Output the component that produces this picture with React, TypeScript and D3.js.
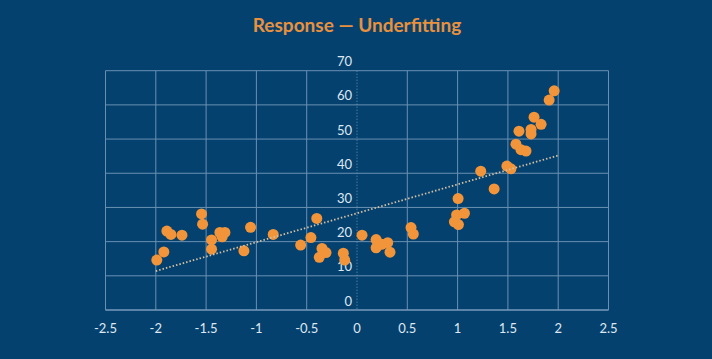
import React from "react";
import * as d3 from "d3";

const W = 712;
const H = 359;

const title = "Response — Underfitting";
const xTicks = [-2.5, -2, -1.5, -1, -0.5, 0, 0.5, 1, 1.5, 2, 2.5];
const yTicks = [0, 10, 20, 30, 40, 50, 60, 70];

const xs = [
  -1.99, -1.92, -1.89, -1.85, -1.74, -1.545, -1.535, -1.446, -1.446, -1.363, -1.313, -1.34, -1.124, -1.058,
  -0.833, -0.56, -0.458, -0.4, -0.348, -0.308, -0.375, -0.136, -0.122,
  0.05, 0.19, 0.19, 0.245, 0.305, 0.328,
  0.537, 0.56,
  0.968, 0.99, 1.005, 1.008, 1.068,
  1.23, 1.363, 1.49, 1.53, 1.58, 1.63, 1.68, 1.61, 1.73, 1.73, 1.76, 1.83, 1.91, 1.96,
];
const ys = [
  14.6, 17.0, 23.1, 22.1, 21.9, 28.1, 25.1, 20.5, 17.8, 22.7, 22.7, 21.4, 17.3, 24.2,
  22.1, 19.0, 21.2, 26.8, 18.0, 16.8, 15.4, 16.6, 14.6,
  21.9, 20.6, 18.2, 19.2, 19.7, 16.9,
  24.1, 22.2,
  25.8, 27.8, 32.6, 25.0, 28.3,
  40.6, 35.4, 42.1, 41.3, 48.5, 46.9, 46.5, 52.3, 52.8, 51.5, 56.4, 54.3, 61.4, 64.1,
];
const trendX = [-2, 2];
const trendY = [11.4, 45.2];

export default function App() {
  const x = d3.scaleLinear().domain([-2.5, 2.5]).range([105.5, 608.5]);
  const y = d3.scaleLinear().domain([0, 70]).range([310, 70.7]);
  const line = d3
    .line<number>()
    .x((_, i) => x(trendX[i]))
    .y((d) => y(d));
  const font = "Lato, 'Open Sans', sans-serif";
  return (
    <svg
      width={W}
      height={H}
      style={{ position: "absolute", left: 0, top: 0, display: "block" }}
    >
      <rect width={W} height={H} fill="#05416e" />
      <text
        x={357}
        y={32}
        textAnchor="middle"
        fill="#e8913e"
        fontFamily={font}
        fontWeight={700}
        fontSize={19}
      >
        {title}
      </text>
      {yTicks.map((t) => (
        <line
          key={"h" + t}
          x1={x(-2.5)}
          x2={x(2.5)}
          y1={y(t)}
          y2={y(t)}
          stroke="#6990b3"
          strokeWidth={1}
        />
      ))}
      {xTicks.map((t) =>
        t === 0 ? null : (
          <line
            key={"v" + t}
            x1={x(t)}
            x2={x(t)}
            y1={y(70)}
            y2={y(0)}
            stroke="#6990b3"
            strokeWidth={1}
          />
        )
      )}
      <line
        x1={x(0)}
        x2={x(0)}
        y1={y(70)}
        y2={y(0)}
        stroke="#6f93b6"
        strokeWidth={1}
        strokeDasharray="1 2"
      />
      <line
        x1={x(-2.5)}
        x2={x(2.5)}
        y1={y(0)}
        y2={y(0)}
        stroke="#7f9fbf"
        strokeWidth={1}
      />
      {yTicks.map((t) => (
        <text
          key={"yl" + t}
          x={x(0) - 5}
          y={y(t) - 9}
          dy="0.35em"
          textAnchor="end"
          fill="#dfe8f1"
          fontFamily={font}
          fontSize={13}
        >
          {t}
        </text>
      ))}
      {xTicks.map((t) => (
        <text
          key={"xl" + t}
          x={x(t)}
          y={328.5}
          dy="0.35em"
          textAnchor="middle"
          fill="#dfe8f1"
          fontFamily={font}
          fontSize={13}
        >
          {t}
        </text>
      ))}
      {xs.map((v, i) => (
        <circle key={"p" + i} cx={x(v)} cy={y(ys[i])} r={5.5} fill="#f2953a" />
      ))}
      <path
        d={line(trendY) || ""}
        fill="none"
        stroke="#d2bfa3"
        strokeWidth={1.8}
        strokeDasharray="1.5 2"
      />
    </svg>
  );
}
